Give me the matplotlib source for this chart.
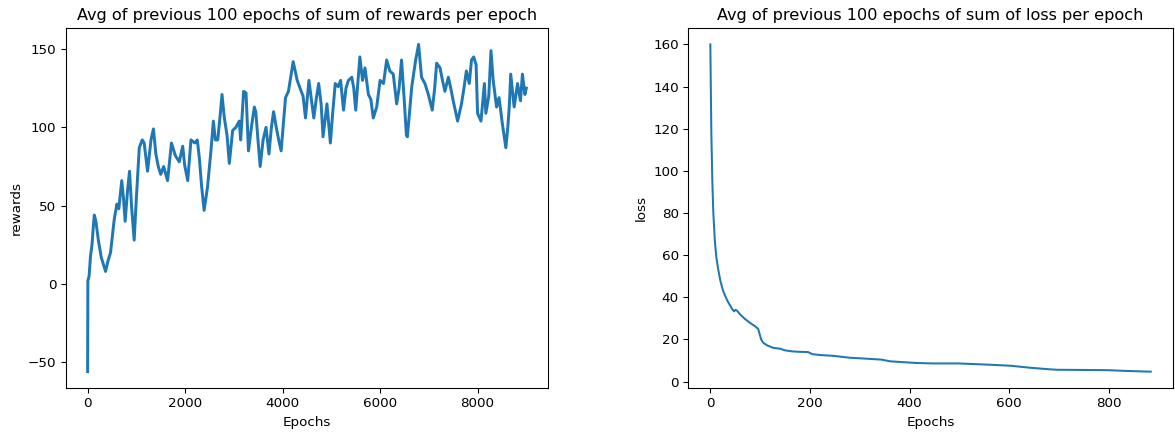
import matplotlib
matplotlib.use('Agg')
import matplotlib.pyplot as plt

# rewards (epoch, avg reward)
rewardEpochs = [0, 5, 30, 60, 90, 120, 137, 170, 220, 280, 330, 368, 420, 470,
				545, 600, 640, 700, 735, 770, 820, 860, 900, 955, 1000, 1060,
				1120, 1160, 1230, 1300, 1350, 1400, 1450, 1500, 1560, 1640, 1720,
				1760, 1800, 1880, 1950, 1990, 2054, 2120, 2200, 2250, 2290, 2340,
				2390, 2460, 2530, 2580, 2620, 2670, 2720, 2757, 2805, 2860, 2907,
				2975, 3040, 3110, 3140, 3200, 3250, 3300, 3360, 3420, 3450, 3500,
				3540, 3600, 3660, 3720, 3770, 3815, 3870, 3920, 3970, 4060, 4120,
				4217, 4300, 4370, 4420, 4470, 4540, 4590, 4640, 4690, 4740, 4790,
				4830, 4910, 4980, 5030, 5080, 5140, 5190, 5250, 5300, 5350, 5420,
				5460, 5500, 5585, 5640, 5690, 5760, 5810, 5860, 5930, 6000, 6070,
				6135, 6200, 6270, 6340, 6390, 6440, 6490, 6540, 6560, 6600, 6650,
				6730, 6790, 6850, 6920, 6990, 7070, 7120, 7160, 7230, 7280, 7330,
				7400, 7450, 7500, 7590, 7670, 7720, 7770, 7830, 7875, 7920, 7970,
				8000, 8070, 8140, 8170, 8230, 8275, 8320, 8390, 8440, 8510, 8580,
				8620, 8650, 8680, 8750, 8820, 8880, 8920, 8970, 9000]
rewardValues = [-56, 2, 5, 18, 25, 38, 44, 40, 28, 17, 12, 8, 15, 20,
				41, 51, 48, 66, 55, 40, 60, 72, 50, 28, 55, 87,
				92, 90, 72, 92, 99, 83, 75, 70, 75, 66, 90,
				86, 82, 78, 88, 76, 66, 92, 90, 92, 81, 62,
				47, 62, 85, 104, 92, 92, 108, 121, 106, 95, 77,
				98, 100, 104, 92, 123, 122, 85, 100, 113, 110, 90,
				75, 92, 100, 83, 100, 110, 100, 92, 85, 119, 123,
				142, 130, 124, 120, 106, 130, 118, 106, 118, 128, 115,
				94, 115, 90, 110, 128, 126, 130, 111, 125, 130, 132,
				125, 111, 145, 130, 138, 121, 118, 106, 113, 130, 128,
				143, 136, 134, 115, 125, 143, 120, 95, 94, 108, 126,
				143, 153, 132, 128, 121, 111, 125, 141, 138, 130, 123,
				132, 125, 117, 104, 115, 125, 136, 128, 143, 145, 140,
				109, 104, 128, 109, 120, 149, 130, 113, 119, 102, 87,
				100, 113, 134, 113, 128, 117, 134, 121, 125]

# loss (epoch, avg loss)
lossEpochs = [0, 2, 4, 6, 9, 12, 16, 20, 25, 30, 35, 40, 45, 48, 50, 53, 60,
			  70, 80, 90, 96, 99, 102, 106, 113, 126, 140, 150, 165, 180, 196,
			  205, 220, 247, 280, 310, 344, 361, 381, 415, 448, 498, 550, 603,
			  640, 676, 696, 750, 797, 840, 884]
lossValues = [160, 118, 95, 80, 67, 59, 53, 48, 43.5, 40.5, 38, 36, 34, 33.3,
			  34, 33.8, 31.8, 29.6, 27.8, 26.2, 25, 22.5, 20, 18.5, 17.3, 16,
			  15.6, 14.8, 14.3, 14.1, 14, 13, 12.6, 12.2, 11.3, 10.9, 10.4, 9.6,
			  9.3, 8.8, 8.6, 8.6, 8.1, 7.5, 6.6, 5.9, 5.6, 5.5, 5.4, 5.0, 4.7]

dpi = 97
fig = plt.figure(figsize=(1175.0/dpi, 435.0/dpi), dpi=dpi)

axRewards = fig.add_axes([0.0559, 0.108, 0.4107, 0.8276])
axRewards.plot(rewardEpochs, rewardValues, color='#1f77b4', linewidth=2.2)
axRewards.set_title('Avg of previous 100 epochs of sum of rewards per epoch')
axRewards.set_xlabel('Epochs')
axRewards.set_ylabel('rewards')
axRewards.set_xticks([0, 2000, 4000, 6000, 8000])
axRewards.set_yticks([-50, 0, 50, 100, 150])

axLoss = fig.add_axes([0.5858, 0.108, 0.4123, 0.8276])
axLoss.plot(lossEpochs, lossValues, color='#1f77b4')
axLoss.set_title('Avg of previous 100 epochs of sum of loss per epoch')
axLoss.set_xlabel('Epochs')
axLoss.set_ylabel('loss')
axLoss.set_xticks([0, 200, 400, 600, 800])
axLoss.set_yticks([0, 20, 40, 60, 80, 100, 120, 140, 160])

fig.savefig('out.png', dpi=dpi)
